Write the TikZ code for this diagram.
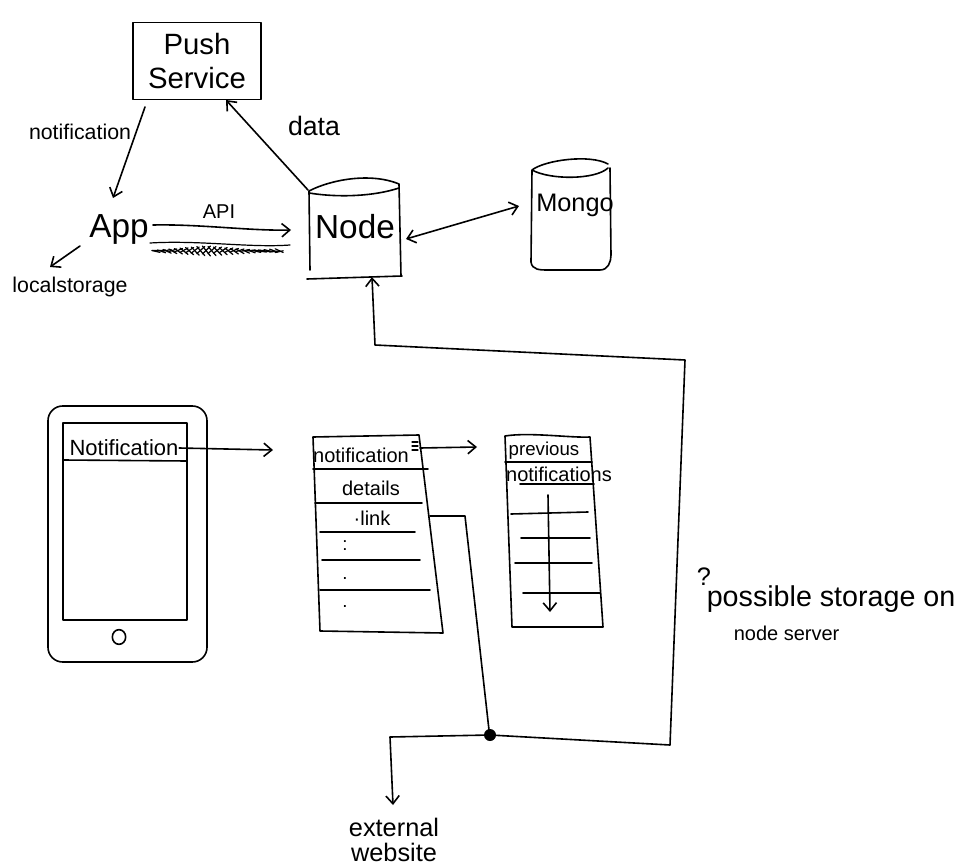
\documentclass[tikz,border=0pt]{standalone}
\usepackage{fontspec}
\setmainfont{Liberation Sans}
\usetikzlibrary{arrows.meta,calc}
\newcommand\fsz[1]{\fontsize{#1}{#1}\selectfont}
\begin{document}
\begin{tikzpicture}[x=0.75pt,y=-0.75pt,
  every path/.style={line width=1.2pt,line cap=round,line join=round},
  tip/.style={-{Straight Barb[length=6pt,width=10pt]}},
  twotip/.style={{Straight Barb[length=6pt,width=10pt]}-{Straight Barb[length=6pt,width=10pt]}},
  lbl/.style={inner sep=0pt,align=center},
  thin/.style={line width=0.9pt}]
\useasboundingbox[fill=white] (0,0) rectangle (961,867);

% ---------- top: services ----------
\node[lbl,draw,minimum width=96pt,minimum height=58pt,font=\fsz{22pt},line width=1.2pt] (push) at (197,61) {Push\\[3pt]Service};

\node[lbl,font=\fsz{25pt}] (app) at (119,229) {App};
\node[lbl,font=\fsz{16pt}] (local) at (70,287) {localstorage};
\node[lbl,font=\fsz{16pt}] (notiflbl) at (80,132) {notification};
\node[lbl,font=\fsz{20pt}] (datalbl) at (314,126) {data};
\node[lbl,font=\fsz{15pt}] (apilbl) at (219,212) {API};

% Node cylinder
\node[lbl,minimum width=69pt,minimum height=65pt] (node) at (355,233) {};
\node[lbl,font=\fsz{25pt}] at (355,227) {Node};
\draw (309,191) .. controls (330,180) and (370,172) .. (399,184)
      (309,193) .. controls (340,198) and (375,196) .. (399,188)
      (309,191) -- (310,270)
      (399,184) -- (401,276)
      (307,279) -- (402,276);

% Mongo cylinder
\node[lbl,minimum width=61pt,minimum height=80pt] (mongo) at (570,217) {};
\node[lbl,font=\fsz{19pt}] at (575,205) {Mongo};
\draw (532,170) .. controls (545,160) and (590,154) .. (608,164)
      (532,170) .. controls (550,180) and (595,180) .. (608,168)
      (532,170) -- (531,262) .. controls (532,270) and (540,270) .. (548,270)
      -- (600,270) .. controls (608,270) and (611,262) .. (611,255) -- (610,168);

% connectors between services
\coordinate (nodeTL) at (308,190);
\coordinate (pushB) at (226,100);
\coordinate (pushN) at (145,107);
\coordinate (appN) at (113,198);
\coordinate (appE) at (153,225);
\coordinate (nodeW) at (291,230);
\coordinate (appSW) at (80,246);
\coordinate (localN) at (50,267);
\coordinate (nodeE) at (406,239);
\coordinate (mongoW) at (519,206);
\draw[tip] (nodeTL) -- (pushB);
\draw[tip] (pushN) -- (appN);
\draw[tip] (appE) .. controls (200,224) and (250,231) .. (nodeW);
\draw[tip] (appSW) -- (localN);
\draw[twotip] (nodeE) -- (mongoW);

% crossed-out note under the API arrow
\draw[thin] (150,243) .. controls (200,240) and (250,248) .. (290,245);
\foreach \i in {0,...,22}{
  \draw[thin] ({152+5.6*\i},{246+abs(\i-9)*0.5}) -- ({160+5.6*\i},{256-abs(\i-9)*0.4});
  \draw[thin] ({160+5.6*\i},{246+abs(\i-9)*0.5}) -- ({152+5.6*\i},{254-abs(\i-9)*0.4});
}

% ---------- bottom: phone ----------
\draw[rounded corners=11pt] (48,406) rectangle (207,662);
\draw (63,423) rectangle (187,620);
\draw (63,460) -- (187,461);
\draw (119,637) ellipse [x radius=5pt,y radius=5.5pt];
\node[lbl,font=\fsz{16.5pt}] (pnote) at (124,448) {Notification};

% notification detail list
\draw (313,437) -- (419,435) -- (443,633) -- (320,631) -- cycle;
\draw (313,469) -- (428,469);
\draw (315,503) -- (422,503);
\draw (320,532) -- (415,532);
\draw (322,560) -- (420,560);
\draw (320,590) -- (430,590);
\node[lbl,font=\fsz{15pt}] (lnote) at (361,455) {notification};
\node[lbl,font=\fsz{15pt}] at (371,488) {details};
\node[lbl,font=\fsz{15pt}] (link) at (372,518) {·link};
\node[lbl,font=\fsz{14pt}] at (345,546) {:};
\node[lbl,font=\fsz{14pt}] at (345,578) {.};
\node[lbl,font=\fsz{14pt}] at (345,606) {.};
\draw[thin] (412,442) -- (418,442) (412,446) -- (418,446) (412,450) -- (418,450);

% previous notifications list
\draw (505,436) .. controls (530,432) and (570,438) .. (590,437) -- (603,627) -- (512,627) -- cycle;
\draw (505,462) -- (592,462);
\draw (520,484) -- (594,484);
\draw (511,514) -- (588,512);
\draw (521,538) -- (590,538);
\draw (515,563) -- (592,563);
\draw (523,593) -- (600,593);
\node[lbl,font=\fsz{14pt}] at (544,451) {previous};
\node[lbl,font=\fsz{15pt}] at (559,474) {notifications};
\coordinate (prevTop) at (548,495);
\coordinate (prevBot) at (550,612);
\draw[tip] (prevTop) -- (prevBot);

% flow arrows between screens
\coordinate (phoneOut) at (273,450);
\coordinate (listOut) at (477,447);
\draw[tip] (pnote.east) -- (phoneOut);
\draw[tip] (420,448) -- (listOut);

% link routing
\coordinate (junction) at (490,735);
\coordinate (linkE) at (430,516);
\coordinate (ext) at (393,805);
\draw (linkE) -- (465,516) -- (489,730);
\fill (junction) circle (4.5pt);
\draw[tip] (junction) -- (390,737) -- (ext);
\draw[tip] (junction) -- (670,745) -- (685,360) -- (375,345) -- (node.south -| 372,0);

\node[lbl,font=\fsz{19pt}] (extlbl) at (394,840) {external\\website};

% storage note
\node[lbl,font=\fsz{19pt}] at (704,577) {?};
\node[lbl,font=\fsz{21.5pt},anchor=west] at (706,599) {possible storage on};
\node[lbl,font=\fsz{15pt},anchor=west] at (733,633) {node server};
\end{tikzpicture}
\end{document}
